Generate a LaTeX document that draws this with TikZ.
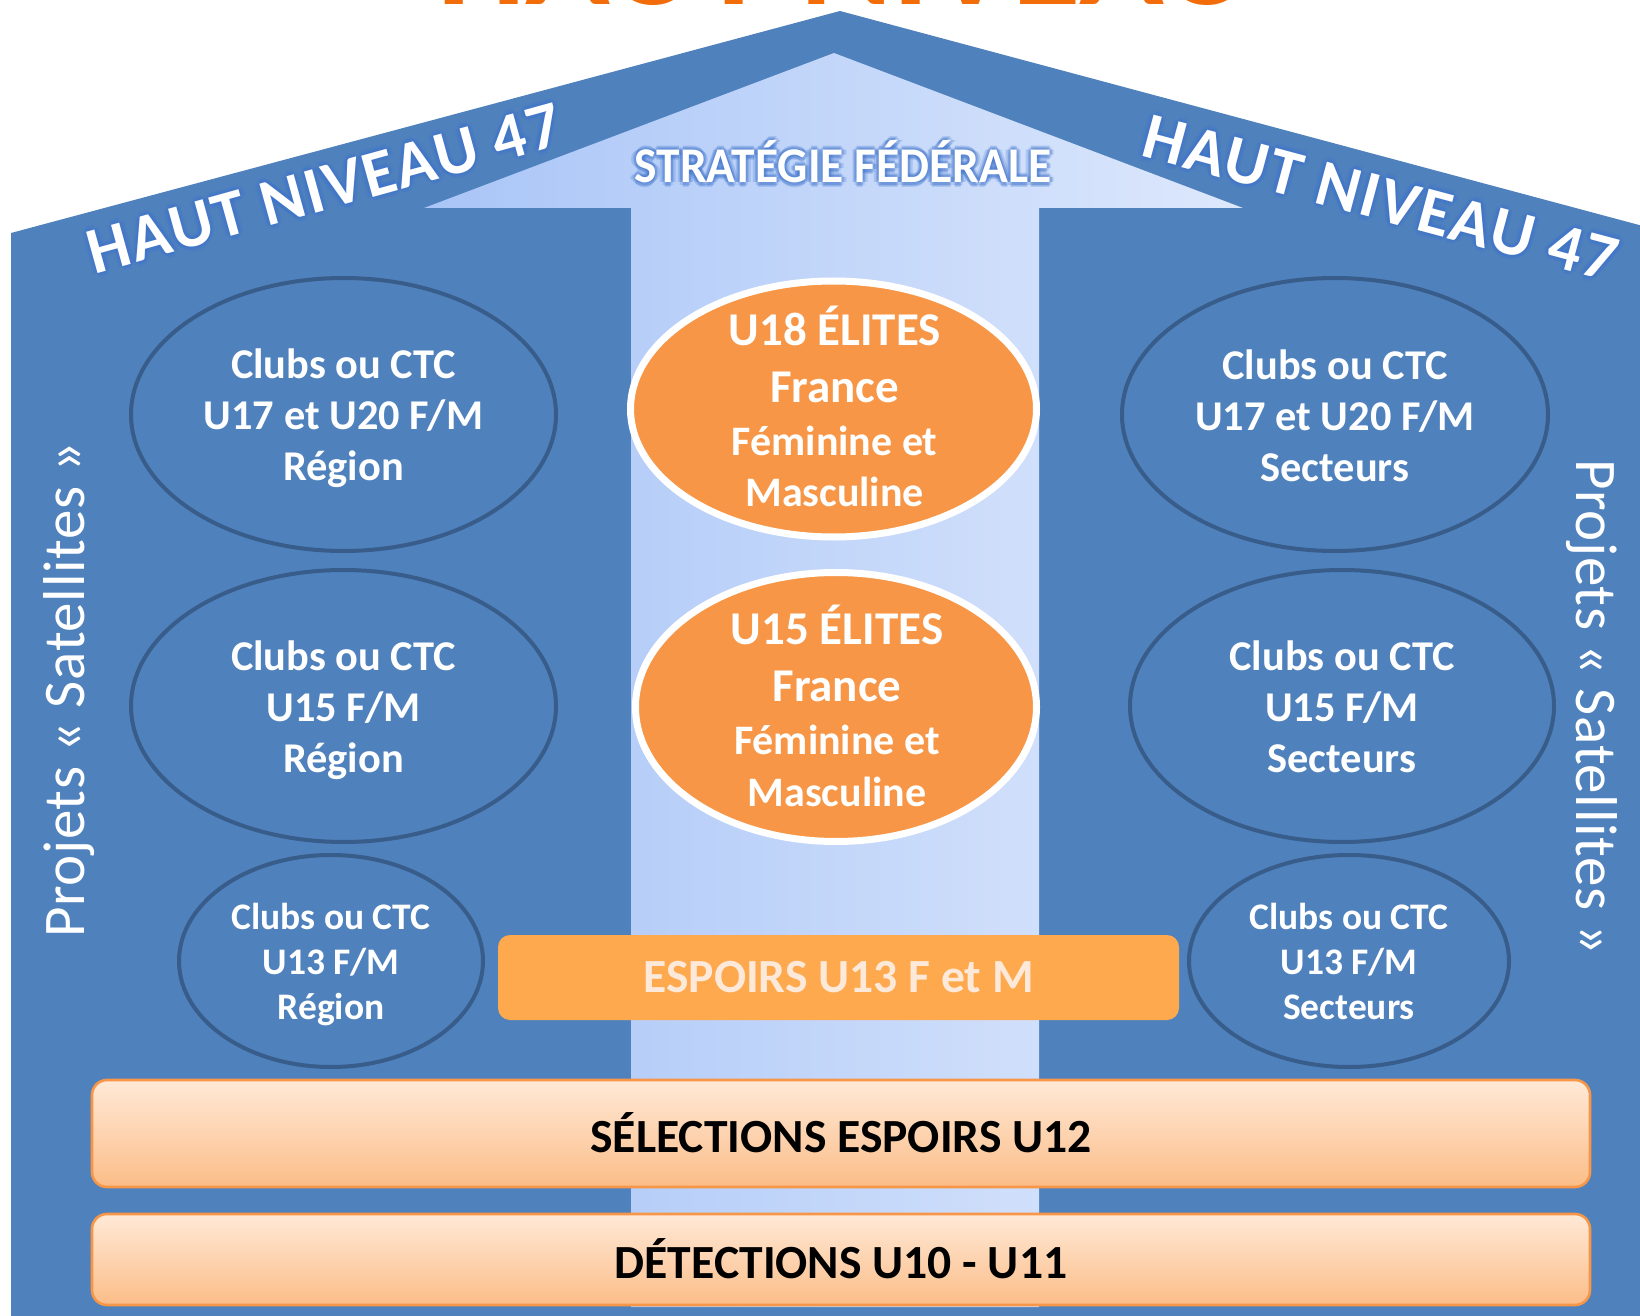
\documentclass[tikz,border=0pt]{standalone}
\usepackage{fontspec}
\setmainfont{Carlito}
\usetikzlibrary{shapes.geometric}
\definecolor{houseblue}{HTML}{4F81BD}
\definecolor{ringblue}{HTML}{385D8A}
\definecolor{orng}{HTML}{F79646}
\definecolor{espoir}{HTML}{FFA94F}
\definecolor{cream}{HTML}{FDE9D9}
\definecolor{toporange}{HTML}{F26C0A}
\definecolor{glowblue}{HTML}{3F74CC}
\definecolor{boxtop}{HTML}{FFE9D7}
\definecolor{boxbot}{HTML}{FBBD88}
\definecolor{boxline}{HTML}{F79646}
\definecolor{arrL}{HTML}{A9C5F7}
\definecolor{arrR}{HTML}{DDE8FC}
\newcommand{\fsz}[2]{\fontsize{#1}{#2}\selectfont}
\newcommand{\glownode}[4]{%
  \foreach \gx/\gy [count=\gk] in {1.6/0,-1.6/0,0/1.6,0/-1.6,1.1/1.1,-1.1/1.1,1.1/-1.1,-1.1/-1.1,2.4/0,-2.4/0,0/2.4,0/-2.4}
    {\node[#3, text=glowblue, opacity=0.22, xshift=\gx pt, yshift=\gy pt] (#1g\gk) at #2 {#4};}
  \node[#3, text=white] (#1) at #2 {#4};}
\tikzset{
  ring/.style={ellipse, draw=ringblue, line width=2pt, inner sep=0pt},
  ringtext/.style={inner sep=0pt, text=white, align=center, yshift=-2pt},
  bigtext/.style={ringtext, font=\bfseries\fsz{21.2}{25.5}},
  smalltext/.style={ringtext, font=\bfseries\fsz{18.75}{22.5}},
  elite/.style={ellipse, fill=orng, draw=white, line width=3.5pt, inner sep=0pt},
  elitebig/.style={anchor=base, text=white, inner sep=0pt, font=\bfseries\fsz{23.5}{28}},
  elitesmall/.style={anchor=base, text=white, inner sep=0pt, font=\bfseries\fsz{21}{25}},
  bar/.style={rectangle, rounded corners=7.5pt, top color=boxtop, bottom color=boxbot, draw=boxline, line width=1.3pt, inner sep=0pt, font=\bfseries\fsz{23.8}{28}, text=black},
  satellite/.style={inner sep=0pt, text=white, font=\fsz{29.5}{34}\addfontfeature{LetterSpace=1.2}},
  roofword/.style={anchor=base, inner sep=0pt, font=\bfseries\fsz{33}{38}\addfontfeature{LetterSpace=3}},
}
\begin{document}
\begin{tikzpicture}[x=0.5pt,y=-0.5pt]
\useasboundingbox (0,0) rectangle (1640,1316);
\clip (0,0) rectangle (1640,1316);
\fill[white] (0,0) rectangle (1640,1316);
% cut title
\node[anchor=base, inner sep=0pt, text=toporange, font=\bfseries\fsz{70}{80}] (title) at (845,4.5) {HAUT NIVEAU};
% house
\fill[houseblue] (11,1316) -- (11,233) -- (840,11) -- (1669,233) -- (1669,1316) -- cycle;
% arrow
\shade[left color=arrL, right color=arrR] (834,53) -- (1243,208) -- (1039,208) -- (1039,1307) -- (631,1307) -- (631,208) -- (424,208) -- cycle;
% side ellipses
\node[ring, minimum width=212.5pt, minimum height=136.5pt] (l1) at (343.5,414.5) {};
\node[bigtext] (l1t) at (l1) {Clubs ou CTC\\U17 et U20 F/M\\Région};
\node[ring, minimum width=212.5pt, minimum height=136pt] (l2) at (343.5,706) {};
\node[bigtext] (l2t) at (l2) {Clubs ou CTC\\U15 F/M\\Région};
\node[ring, minimum width=152pt, minimum height=106pt] (l3) at (331,961) {};
\node[smalltext] (l3t) at (l3) {Clubs ou CTC\\U13 F/M\\Région};
\node[ring, minimum width=213pt, minimum height=136.5pt] (r1) at (1335,414.5) {};
\node[bigtext, yshift=1.5pt] (r1t) at (r1) {Clubs ou CTC\\U17 et U20 F/M\\Secteurs};
\node[ring, minimum width=212pt, minimum height=136pt] (r2) at (1342,706) {};
\node[bigtext, yshift=1.5pt] (r2t) at (r2) {Clubs ou CTC\\U15 F/M\\Secteurs};
\node[ring, minimum width=160pt, minimum height=106pt] (r3) at (1349,961) {};
\node[smalltext, yshift=2pt] (r3t) at (r3) {Clubs ou CTC\\U13 F/M\\Secteurs};
% elite ellipses
\node[elite, minimum width=203pt, minimum height=128pt] (u18) at (833.5,409) {};
\node[elitebig] (u18a) at (834.6,346) {U18 ÉLITES};
\node[elitebig] (u18b) at (834.6,402) {France};
\node[elitesmall] (u18c) at (834.6,455.5) {Féminine et};
\node[elitesmall] (u18d) at (834.6,506.5) {Masculine};
\node[elite, minimum width=200.5pt, minimum height=134.5pt] (u15) at (836,707) {};
\node[elitebig] (u15a) at (837,644) {U15 ÉLITES};
\node[elitebig] (u15b) at (837,701) {France};
\node[elitesmall] (u15c) at (837,754.5) {Féminine et};
\node[elitesmall] (u15d) at (837,806) {Masculine};
% espoirs
\node[rectangle, rounded corners=6pt, fill=espoir, minimum width=340.5pt, minimum height=42.5pt, inner sep=0pt, text=cream, font=\bfseries\fsz{23.8}{28}] (esp) at (838.5,977.5) {\raisebox{-1pt}{ESPOIRS U13 F et M}};
% bars
\node[bar, minimum width=749pt, minimum height=53.5pt] (sel) at (841,1133.5) {\raisebox{1pt}{SÉLECTIONS ESPOIRS U12}};
\node[bar, minimum width=749pt, minimum height=45.5pt] (det) at (841,1259.5) {\raisebox{1pt}{DÉTECTIONS U10 - U11}};
% side texts
\node[satellite, rotate=90] (satl) at (69,690) {Projets « Satellites »};
\node[satellite, rotate=-90] (satr) at (1592,707) {Projets « Satellites »};
% glowing labels
\glownode{strat}{(843,183)}{anchor=base, inner sep=0pt, xscale=0.95, font=\bfseries\fsz{25}{30}}{STRATÉGIE FÉDÉRALE}
\glownode{hnl}{(330,209)}{roofword, rotate=15.5}{HAUT NIVEAU 47}
\glownode{hnr}{(1375,219)}{roofword, rotate=-15}{HAUT NIVEAU 47}
\end{tikzpicture}
\end{document}
